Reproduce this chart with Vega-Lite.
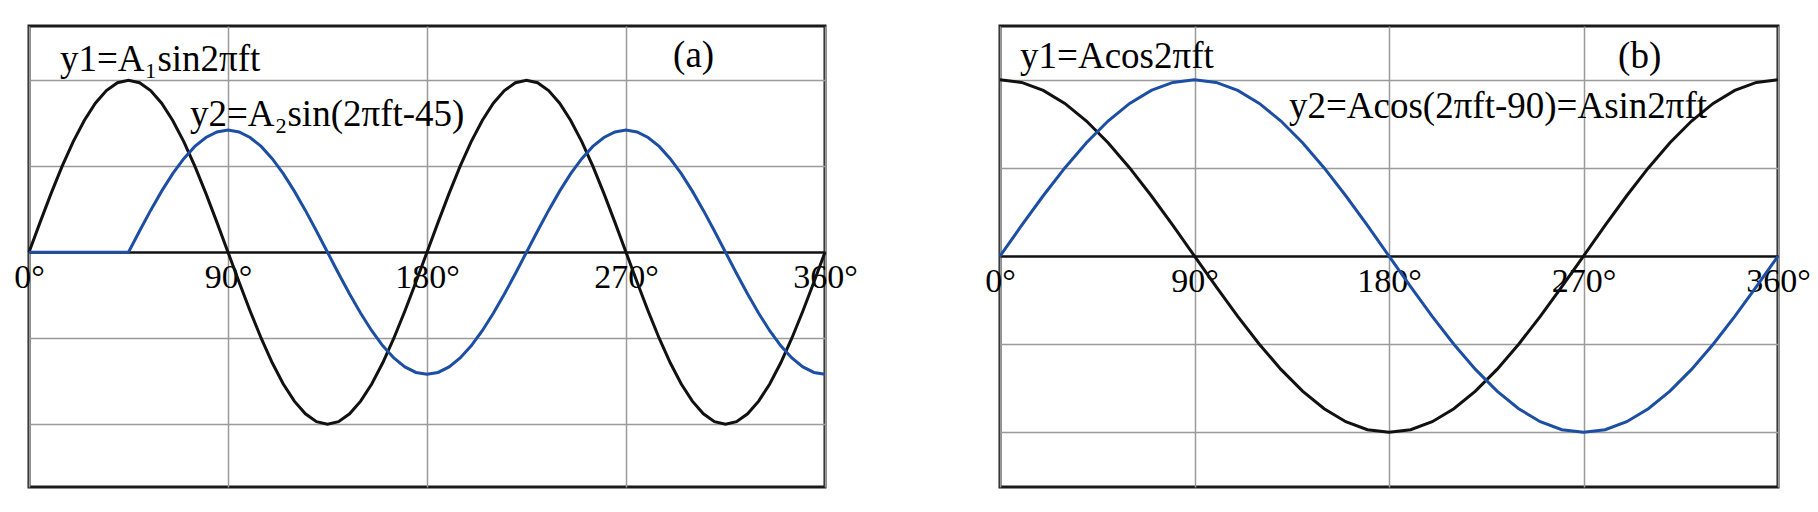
{
  "$schema": "https://vega.github.io/schema/vega-lite/v6.json",
  "padding": {"left": 12, "top": 24, "right": 0, "bottom": 0},
  "background": "white",
  "bounds": "flush",
  "spacing": 175,
  "config": {"view": {"stroke": "#1a1a1a", "strokeWidth": 3}, "font": "Liberation Serif"},
  "datasets": {
    "a": [
      {"t":0,"y1":0,"y2":0},{"t":5,"y1":0.347,"y2":0},{"t":10,"y1":0.684,"y2":0},{"t":15,"y1":1.0,"y2":0},{"t":20,"y1":1.286,"y2":0},{"t":25,"y1":1.532,"y2":0},{"t":30,"y1":1.732,"y2":0},{"t":35,"y1":1.879,"y2":0},{"t":40,"y1":1.970,"y2":0},{"t":45,"y1":2,"y2":0},
      {"t":50,"y1":1.970,"y2":0.247},{"t":55,"y1":1.879,"y2":0.486},{"t":60,"y1":1.732,"y2":0.71},{"t":65,"y1":1.532,"y2":0.913},{"t":70,"y1":1.286,"y2":1.088},{"t":75,"y1":1.0,"y2":1.23},{"t":80,"y1":0.684,"y2":1.334},{"t":85,"y1":0.347,"y2":1.398},{"t":90,"y1":0,"y2":1.42},
      {"t":95,"y1":-0.347,"y2":1.398},{"t":100,"y1":-0.684,"y2":1.334},{"t":105,"y1":-1.0,"y2":1.23},{"t":110,"y1":-1.286,"y2":1.088},{"t":115,"y1":-1.532,"y2":0.913},{"t":120,"y1":-1.732,"y2":0.71},{"t":125,"y1":-1.879,"y2":0.486},{"t":130,"y1":-1.970,"y2":0.247},{"t":135,"y1":-2,"y2":0},
      {"t":140,"y1":-1.970,"y2":-0.247},{"t":145,"y1":-1.879,"y2":-0.486},{"t":150,"y1":-1.732,"y2":-0.71},{"t":155,"y1":-1.532,"y2":-0.913},{"t":160,"y1":-1.286,"y2":-1.088},{"t":165,"y1":-1.0,"y2":-1.23},{"t":170,"y1":-0.684,"y2":-1.334},{"t":175,"y1":-0.347,"y2":-1.398},{"t":180,"y1":0,"y2":-1.42},
      {"t":185,"y1":0.347,"y2":-1.398},{"t":190,"y1":0.684,"y2":-1.334},{"t":195,"y1":1.0,"y2":-1.23},{"t":200,"y1":1.286,"y2":-1.088},{"t":205,"y1":1.532,"y2":-0.913},{"t":210,"y1":1.732,"y2":-0.71},{"t":215,"y1":1.879,"y2":-0.486},{"t":220,"y1":1.970,"y2":-0.247},{"t":225,"y1":2,"y2":0},
      {"t":230,"y1":1.970,"y2":0.247},{"t":235,"y1":1.879,"y2":0.486},{"t":240,"y1":1.732,"y2":0.71},{"t":245,"y1":1.532,"y2":0.913},{"t":250,"y1":1.286,"y2":1.088},{"t":255,"y1":1.0,"y2":1.23},{"t":260,"y1":0.684,"y2":1.334},{"t":265,"y1":0.347,"y2":1.398},{"t":270,"y1":0,"y2":1.42},
      {"t":275,"y1":-0.347,"y2":1.398},{"t":280,"y1":-0.684,"y2":1.334},{"t":285,"y1":-1.0,"y2":1.23},{"t":290,"y1":-1.286,"y2":1.088},{"t":295,"y1":-1.532,"y2":0.913},{"t":300,"y1":-1.732,"y2":0.71},{"t":305,"y1":-1.879,"y2":0.486},{"t":310,"y1":-1.970,"y2":0.247},{"t":315,"y1":-2,"y2":0},
      {"t":320,"y1":-1.970,"y2":-0.247},{"t":325,"y1":-1.879,"y2":-0.486},{"t":330,"y1":-1.732,"y2":-0.71},{"t":335,"y1":-1.532,"y2":-0.913},{"t":340,"y1":-1.286,"y2":-1.088},{"t":345,"y1":-1.0,"y2":-1.23},{"t":350,"y1":-0.684,"y2":-1.334},{"t":355,"y1":-0.347,"y2":-1.398},{"t":360,"y1":0,"y2":-1.42}
    ],
    "b": [
      {"t":0,"y1":2,"y2":0},{"t":10,"y1":1.970,"y2":0.347},{"t":20,"y1":1.879,"y2":0.684},{"t":30,"y1":1.732,"y2":1.0},{"t":40,"y1":1.532,"y2":1.286},{"t":50,"y1":1.286,"y2":1.532},{"t":60,"y1":1.0,"y2":1.732},{"t":70,"y1":0.684,"y2":1.879},{"t":80,"y1":0.347,"y2":1.970},{"t":90,"y1":0,"y2":2},
      {"t":100,"y1":-0.347,"y2":1.970},{"t":110,"y1":-0.684,"y2":1.879},{"t":120,"y1":-1.0,"y2":1.732},{"t":130,"y1":-1.286,"y2":1.532},{"t":140,"y1":-1.532,"y2":1.286},{"t":150,"y1":-1.732,"y2":1.0},{"t":160,"y1":-1.879,"y2":0.684},{"t":170,"y1":-1.970,"y2":0.347},{"t":180,"y1":-2,"y2":0},
      {"t":190,"y1":-1.970,"y2":-0.347},{"t":200,"y1":-1.879,"y2":-0.684},{"t":210,"y1":-1.732,"y2":-1.0},{"t":220,"y1":-1.532,"y2":-1.286},{"t":230,"y1":-1.286,"y2":-1.532},{"t":240,"y1":-1.0,"y2":-1.732},{"t":250,"y1":-0.684,"y2":-1.879},{"t":260,"y1":-0.347,"y2":-1.970},{"t":270,"y1":0,"y2":-2},
      {"t":280,"y1":0.347,"y2":-1.970},{"t":290,"y1":0.684,"y2":-1.879},{"t":300,"y1":1.0,"y2":-1.732},{"t":310,"y1":1.286,"y2":-1.532},{"t":320,"y1":1.532,"y2":-1.286},{"t":330,"y1":1.732,"y2":-1.0},{"t":340,"y1":1.879,"y2":-0.684},{"t":350,"y1":1.970,"y2":-0.347},{"t":360,"y1":2,"y2":0}
    ],
    "ta": [
      {"t":14.0,"v":2.23,"label":"y1=A₁sin2πft"},
      {"t":72.8,"v":1.6,"label":"y2=A₂sin(2πft-45)"},
      {"t":291.3,"v":2.28,"label":"(a)"}
    ],
    "tb": [
      {"t":9.3,"v":2.26,"label":"y1=Acos2πft"},
      {"t":133.7,"v":1.69,"label":"y2=Acos(2πft-90)=Asin2πft"},
      {"t":286.0,"v":2.26,"label":"(b)"}
    ]
  },
  "hconcat": [
    {
      "width": 796,
      "height": 461,
      "layer": [
        {
          "data": {"name": "a"},
          "transform": [{"fold": ["y1", "y2"], "as": ["series", "v"]}],
          "mark": {"type": "line", "strokeWidth": 3},
          "encoding": {
            "x": {"field": "t", "type": "quantitative", "scale": {"domain": [0, 360], "nice": false, "zero": false},
              "axis": {"values": [0, 90, 180, 270, 360], "labelExpr": "datum.value + '°'", "title": null, "offset": -235,
                "domainColor": "#111111", "domainWidth": 2.5, "ticks": false, "labelFontSize": 34, "labelFont": "Liberation Serif",
                "labelColor": "#000000", "labelPadding": 8, "grid": true, "gridColor": "#9a9a9a", "gridWidth": 1.5,
                "labelFlush": false, "labelOverlap": false, "labelBound": false}},
            "y": {"field": "v", "type": "quantitative", "scale": {"domain": [-2.73, 2.63], "nice": false, "zero": false},
              "axis": {"values": [-2, -1, 1, 2], "grid": true, "gridColor": "#9a9a9a", "gridWidth": 1.5, "labels": false, "ticks": false, "domain": false, "title": null}},
            "color": {"field": "series", "type": "nominal", "scale": {"domain": ["y1", "y2"], "range": ["#111111", "#1c4fa3"]}, "legend": null}
          }
        },
        {
          "data": {"name": "ta"},
          "mark": {"type": "text", "font": "Liberation Serif", "fontSize": 37, "align": "left", "baseline": "middle", "color": "#000000"},
          "encoding": {
            "x": {"field": "t", "type": "quantitative"},
            "y": {"field": "v", "type": "quantitative"},
            "text": {"field": "label"}
          }
        }
      ]
    },
    {
      "width": 778,
      "height": 461,
      "layer": [
        {
          "data": {"name": "b"},
          "transform": [{"fold": ["y1", "y2"], "as": ["series", "v"]}],
          "mark": {"type": "line", "strokeWidth": 3},
          "encoding": {
            "x": {"field": "t", "type": "quantitative", "scale": {"domain": [0, 360], "nice": false, "zero": false},
              "axis": {"values": [0, 90, 180, 270, 360], "labelExpr": "datum.value + '°'", "title": null, "offset": -231,
                "domainColor": "#111111", "domainWidth": 2.5, "ticks": false, "labelFontSize": 34, "labelFont": "Liberation Serif",
                "labelColor": "#000000", "labelPadding": 8, "grid": true, "gridColor": "#9a9a9a", "gridWidth": 1.5,
                "labelFlush": false, "labelOverlap": false, "labelBound": false}},
            "y": {"field": "v", "type": "quantitative", "scale": {"domain": [-2.62, 2.61], "nice": false, "zero": false},
              "axis": {"values": [-2, -1, 1, 2], "grid": true, "gridColor": "#9a9a9a", "gridWidth": 1.5, "labels": false, "ticks": false, "domain": false, "title": null}},
            "color": {"field": "series", "type": "nominal", "scale": {"domain": ["y1", "y2"], "range": ["#111111", "#1c4fa3"]}, "legend": null}
          }
        },
        {
          "data": {"name": "tb"},
          "mark": {"type": "text", "font": "Liberation Serif", "fontSize": 37, "align": "left", "baseline": "middle", "color": "#000000"},
          "encoding": {
            "x": {"field": "t", "type": "quantitative"},
            "y": {"field": "v", "type": "quantitative"},
            "text": {"field": "label"}
          }
        }
      ]
    }
  ]
}
